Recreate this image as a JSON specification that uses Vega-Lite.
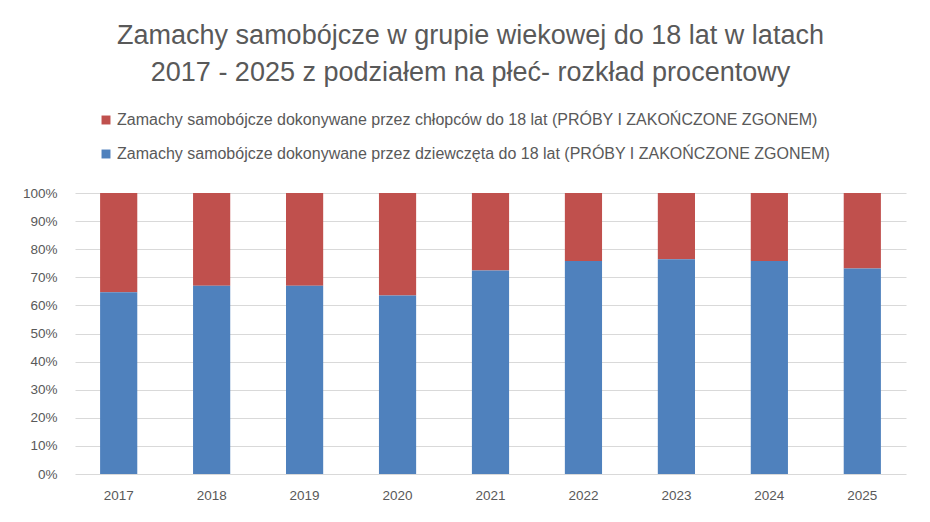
{
  "$schema": "https://vega.github.io/schema/vega-lite/v6.json",
  "width": 831,
  "height": 281,
  "autosize": "none",
  "padding": {"left": 75, "top": 193, "right": 24, "bottom": 48},
  "background": "white",
  "title": {
    "text": ["Zamachy samobójcze w grupie wiekowej do 18 lat w latach", "2017 - 2025 z podziałem na płeć- rozkład procentowy"],
    "font": "Liberation Sans",
    "fontSize": 27,
    "fontWeight": "normal",
    "color": "#595959",
    "lineHeight": 37,
    "anchor": "middle",
    "dx": -20,
    "offset": 25
  },
  "data": {
    "values": [
      {"year": "2017", "series": "Zamachy samobójcze dokonywane przez chłopców do 18 lat (PRÓBY I ZAKOŃCZONE ZGONEM)", "value": 35.3},
      {"year": "2017", "series": "Zamachy samobójcze dokonywane przez dziewczęta do 18 lat (PRÓBY I ZAKOŃCZONE ZGONEM)", "value": 64.7},
      {"year": "2018", "series": "Zamachy samobójcze dokonywane przez chłopców do 18 lat (PRÓBY I ZAKOŃCZONE ZGONEM)", "value": 33.0},
      {"year": "2018", "series": "Zamachy samobójcze dokonywane przez dziewczęta do 18 lat (PRÓBY I ZAKOŃCZONE ZGONEM)", "value": 67.0},
      {"year": "2019", "series": "Zamachy samobójcze dokonywane przez chłopców do 18 lat (PRÓBY I ZAKOŃCZONE ZGONEM)", "value": 33.0},
      {"year": "2019", "series": "Zamachy samobójcze dokonywane przez dziewczęta do 18 lat (PRÓBY I ZAKOŃCZONE ZGONEM)", "value": 67.0},
      {"year": "2020", "series": "Zamachy samobójcze dokonywane przez chłopców do 18 lat (PRÓBY I ZAKOŃCZONE ZGONEM)", "value": 36.5},
      {"year": "2020", "series": "Zamachy samobójcze dokonywane przez dziewczęta do 18 lat (PRÓBY I ZAKOŃCZONE ZGONEM)", "value": 63.5},
      {"year": "2021", "series": "Zamachy samobójcze dokonywane przez chłopców do 18 lat (PRÓBY I ZAKOŃCZONE ZGONEM)", "value": 27.6},
      {"year": "2021", "series": "Zamachy samobójcze dokonywane przez dziewczęta do 18 lat (PRÓBY I ZAKOŃCZONE ZGONEM)", "value": 72.4},
      {"year": "2022", "series": "Zamachy samobójcze dokonywane przez chłopców do 18 lat (PRÓBY I ZAKOŃCZONE ZGONEM)", "value": 24.2},
      {"year": "2022", "series": "Zamachy samobójcze dokonywane przez dziewczęta do 18 lat (PRÓBY I ZAKOŃCZONE ZGONEM)", "value": 75.8},
      {"year": "2023", "series": "Zamachy samobójcze dokonywane przez chłopców do 18 lat (PRÓBY I ZAKOŃCZONE ZGONEM)", "value": 23.6},
      {"year": "2023", "series": "Zamachy samobójcze dokonywane przez dziewczęta do 18 lat (PRÓBY I ZAKOŃCZONE ZGONEM)", "value": 76.4},
      {"year": "2024", "series": "Zamachy samobójcze dokonywane przez chłopców do 18 lat (PRÓBY I ZAKOŃCZONE ZGONEM)", "value": 24.2},
      {"year": "2024", "series": "Zamachy samobójcze dokonywane przez dziewczęta do 18 lat (PRÓBY I ZAKOŃCZONE ZGONEM)", "value": 75.8},
      {"year": "2025", "series": "Zamachy samobójcze dokonywane przez chłopców do 18 lat (PRÓBY I ZAKOŃCZONE ZGONEM)", "value": 26.9},
      {"year": "2025", "series": "Zamachy samobójcze dokonywane przez dziewczęta do 18 lat (PRÓBY I ZAKOŃCZONE ZGONEM)", "value": 73.1}
    ]
  },
  "mark": {"type": "bar"},
  "encoding": {
    "x": {
      "field": "year",
      "type": "ordinal",
      "title": null,
      "scale": {"paddingInner": 0.6, "paddingOuter": 0.27},
      "axis": {
        "labelAngle": 0,
        "domain": false,
        "ticks": false,
        "labelFont": "Liberation Sans",
        "labelFontSize": 13.5,
        "labelColor": "#595959",
        "labelPadding": 14
      }
    },
    "y": {
      "field": "value",
      "type": "quantitative",
      "stack": "normalize",
      "title": null,
      "scale": {"domain": [0, 1]},
      "axis": {
        "format": ".0%",
        "values": [0, 0.1, 0.2, 0.3, 0.4, 0.5, 0.6, 0.7, 0.8, 0.9, 1],
        "domain": false,
        "ticks": false,
        "labelFont": "Liberation Sans",
        "labelFontSize": 13.5,
        "labelColor": "#595959",
        "labelPadding": 18,
        "gridColor": "#d9d9d9",
        "gridWidth": 1
      }
    },
    "color": {
      "field": "series",
      "type": "nominal",
      "scale": {
        "domain": ["Zamachy samobójcze dokonywane przez chłopców do 18 lat (PRÓBY I ZAKOŃCZONE ZGONEM)", "Zamachy samobójcze dokonywane przez dziewczęta do 18 lat (PRÓBY I ZAKOŃCZONE ZGONEM)"],
        "range": ["#C0504D", "#4F81BD"]
      },
      "legend": {
        "title": null,
        "orient": "none",
        "legendX": 23,
        "legendY": -81,
        "direction": "vertical",
        "symbolType": "square",
        "symbolSize": 80,
        "symbolStrokeWidth": 0,
        "rowPadding": 18,
        "labelFont": "Liberation Sans",
        "labelFontSize": 16,
        "labelColor": "#595959",
        "labelLimit": 900,
        "labelOffset": 3
      }
    },
    "order": {"field": "series", "sort": "descending"}
  },
  "config": {
    "view": {"stroke": null}
  }
}
